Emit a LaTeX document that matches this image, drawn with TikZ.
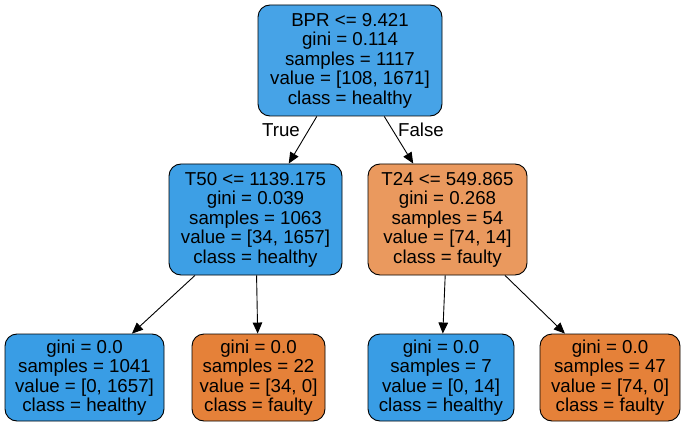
\documentclass[tikz,border=0pt]{standalone}
\usepackage{fontspec}
\setmainfont{Liberation Sans}
\usetikzlibrary{arrows.meta}
\definecolor{rootblue}{HTML}{46A3E7}
\definecolor{midblue}{HTML}{3D9FE5}
\definecolor{pureblue}{HTML}{399DE5}
\definecolor{midorange}{HTML}{EA995E}
\definecolor{pureorange}{HTML}{E58139}
\begin{document}
\begin{tikzpicture}[x=1pt,y=1pt,
  treenode/.style={draw=black, line width=0.9pt, rounded corners=12pt,
    align=center, inner sep=0pt, font=\fontsize{18.7}{19.5}\selectfont},
  edge/.style={draw=black, line width=0.9pt, -{Triangle[length=11pt,width=9.5pt]}},
  edgelabel/.style={font=\fontsize{18.7}{19.5}\selectfont}]
  \useasboundingbox[fill=white] (0,0) rectangle (685,429);

  % root split
  \node[treenode, fill=rootblue, minimum width=184pt, minimum height=111pt] (root) at (350,368.5)
    {BPR <= 9.421\\gini = 0.114\\samples = 1117\\value = [108, 1671]\\class = healthy};

  % second level
  \node[treenode, fill=midblue, minimum width=173pt, minimum height=111pt] (l) at (255.5,209.5)
    {T50 <= 1139.175\\gini = 0.039\\samples = 1063\\value = [34, 1657]\\class = healthy};
  \node[treenode, fill=midorange, minimum width=159pt, minimum height=111pt] (r) at (447.5,209.5)
    {T24 <= 549.865\\gini = 0.268\\samples = 54\\value = [74, 14]\\class = faulty};

  % leaves
  \node[treenode, fill=pureblue, minimum width=159pt, minimum height=87pt] (ll) at (84.5,51.5)
    {gini = 0.0\\samples = 1041\\value = [0, 1657]\\class = healthy};
  \node[treenode, fill=pureorange, minimum width=133pt, minimum height=87pt] (lr) at (258.5,51.5)
    {gini = 0.0\\samples = 22\\value = [34, 0]\\class = faulty};
  \node[treenode, fill=pureblue, minimum width=146pt, minimum height=87pt] (rl) at (441,51.5)
    {gini = 0.0\\samples = 7\\value = [0, 14]\\class = healthy};
  \node[treenode, fill=pureorange, minimum width=140pt, minimum height=87pt] (rr) at (610,51.5)
    {gini = 0.0\\samples = 47\\value = [74, 0]\\class = faulty};

  % connectors
  \draw[edge] (root) -- (l);
  \draw[edge] (root) -- (r);
  \draw[edge] (l) -- (ll);
  \draw[edge] (l) -- (lr);
  \draw[edge] (r) -- (rl);
  \draw[edge] (r) -- (rr);

  \node[edgelabel] (t) at (281,299) {True};
  \node[edgelabel] (f) at (421,299) {False};
\end{tikzpicture}
\end{document}
